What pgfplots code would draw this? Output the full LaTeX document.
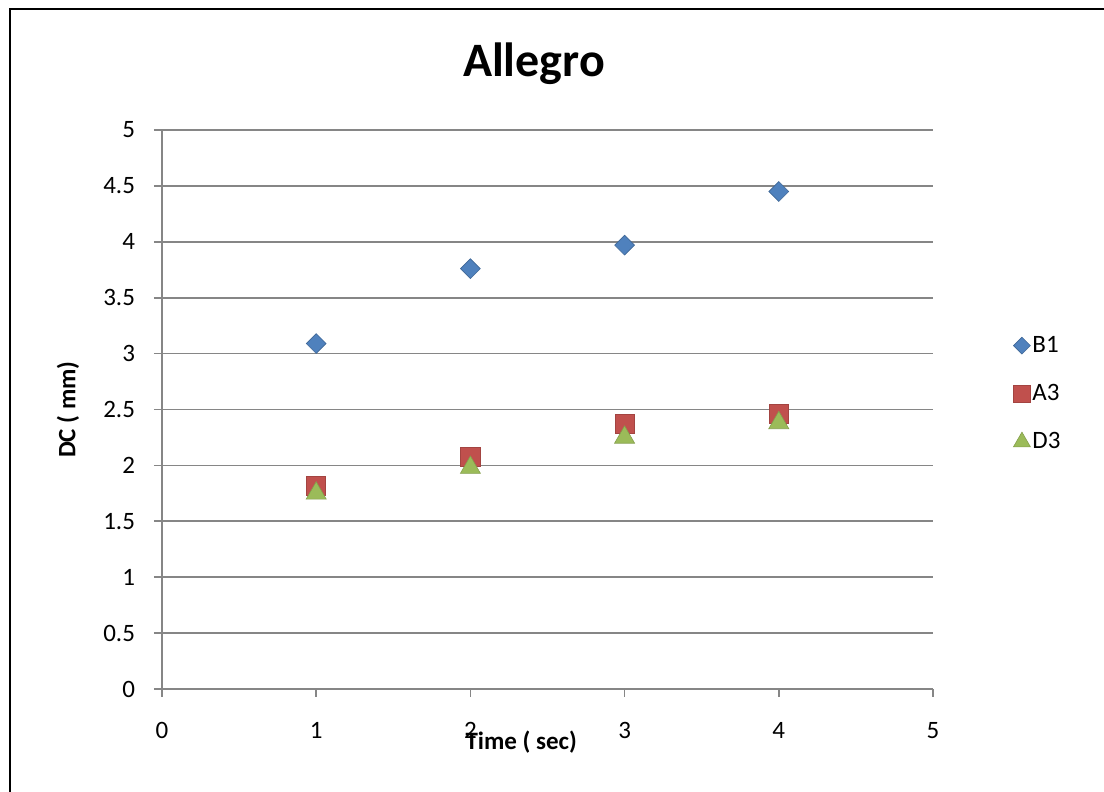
\documentclass[border=0pt]{standalone}
\usepackage{fontspec}
\setmainfont{Carlito}
\usepackage{pgfplots}
\pgfplotsset{compat=1.18}
\definecolor{bOne}{HTML}{4F81BD}
\definecolor{aThree}{HTML}{C0504D}
\definecolor{dThree}{HTML}{9BBB59}
\definecolor{gridgray}{HTML}{868686}
\begin{document}
\begin{tikzpicture}
\useasboundingbox (-81pt,-51.5pt) rectangle (471pt,344.5pt);
\draw[line width=1pt,black] (-76pt,-51.5pt) -- (-76pt,340pt) -- (471pt,340pt);
\begin{axis}[
  at={(0pt,0pt)}, anchor=south west,
  scale only axis, width=385.5pt, height=279.5pt,
  xmin=0, xmax=5, ymin=0, ymax=5,
  xtick={0,1,2,3,4,5}, ytick={0,0.5,1,1.5,2,2.5,3,3.5,4,4.5,5},
  axis x line*=bottom, axis y line*=left,
  axis line style={gridgray, line width=0.8pt},
  every tick/.style={gridgray, line width=0.8pt},
  tick align=outside, major tick length=4pt,
  ymajorgrids, grid style={gridgray, line width=0.8pt},
  /pgf/number format/assume math mode=true,
  ticklabel style={font=\fontsize{12.5}{14}\selectfont},
  xticklabel style={yshift=-9pt},
  yticklabel style={xshift=-6pt},
  title={Allegro},
  title style={font=\fontsize{24}{28}\selectfont\bfseries, at={(axis description cs:0.4825,1)}, anchor=center, yshift=27pt},
  xlabel={Time ( sec)},
  xlabel style={font=\fontsize{12.5}{14}\selectfont\bfseries, at={(axis description cs:0.466,0)}, anchor=center, yshift=-26.5pt},
  ylabel={DC ( mm)},
  ylabel style={font=\fontsize{12.5}{14}\selectfont\bfseries, at={(axis description cs:-0.122,0.5)}, anchor=center},
  legend style={at={(axis description cs:1.096,0.528)}, anchor=west, draw=none, fill=none,
    font=\fontsize{12.5}{14}\selectfont, row sep=12.5pt,
    nodes={inner sep=1pt}},
  legend cell align=left,
  legend image code/.code={\path[#1,scale=0.85] plot[only marks] coordinates {(0.1cm,0cm)};},
]
\addplot[only marks, mark=square*, mark options={rotate=45, fill=bOne, draw=bOne!80!black, line width=0.3pt}, mark size=3.5pt]
  coordinates {(1,3.09) (2,3.76) (3,3.97) (4,4.45)};
\addlegendentry{B1}
\addplot[only marks, mark=square*, mark options={fill=aThree, draw=aThree!85!black, line width=0.3pt}, mark size=4.8pt]
  coordinates {(1,1.82) (2,2.08) (3,2.37) (4,2.46)};
\addlegendentry{A3}
\addplot[only marks, mark=triangle*, mark options={fill=dThree, draw=dThree!85!black, line width=0.3pt}, mark size=5.8pt]
  coordinates {(1,1.75) (2,1.98) (3,2.25) (4,2.38)};
\addlegendentry{D3}
\end{axis}
\end{tikzpicture}
\end{document}
